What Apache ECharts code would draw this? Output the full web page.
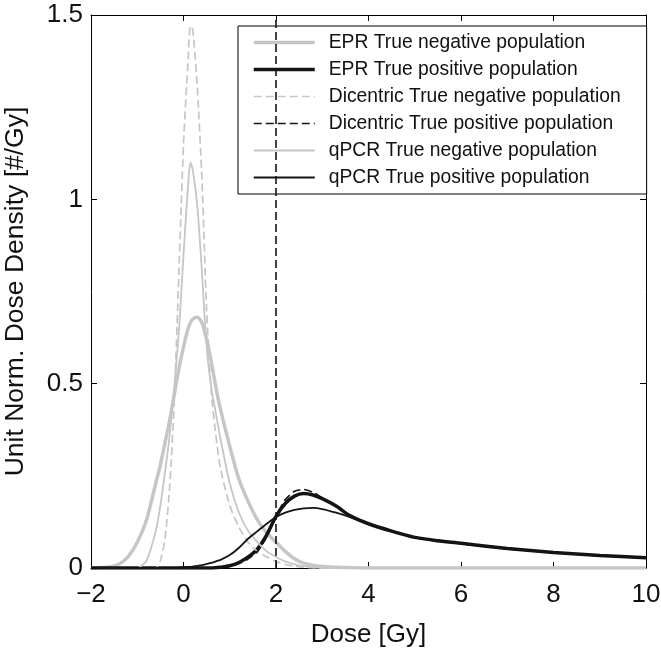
<!DOCTYPE html>
<html>
<head>
<meta charset="utf-8">
<script src="https://cdn.jsdelivr.net/npm/echarts@6/dist/echarts.min.js"></script>
<style>html,body{margin:0;padding:0;background:#fff}#c{width:661px;height:649px}</style>
</head>
<body>
<div id="c"></div>
<script>
const doses = [-2, -1.6, -1.4, -1.2, -1.0, -0.8, -0.6, -0.5, -0.4, -0.3, -0.2, -0.1, 0, 0.1, 0.15, 0.2, 0.3, 0.4, 0.5, 0.6, 0.7, 0.8, 1.0, 1.2, 1.4, 1.6, 1.8, 2.0, 2.2, 2.4, 2.6, 2.8, 3.0, 3.3, 3.6, 4.0, 4.5, 5.0, 5.5, 6.0, 7.0, 8.0, 9.0, 10.0];

const eprNeg = [0, 0.003, 0.01, 0.03, 0.07, 0.13, 0.23, 0.28, 0.34, 0.40, 0.47, 0.54, 0.60, 0.65, 0.665, 0.675, 0.68, 0.665, 0.62, 0.56, 0.49, 0.43, 0.33, 0.24, 0.18, 0.13, 0.095, 0.07, 0.045, 0.025, 0.013, 0.007, 0.004, 0.002, 0.001, 0, 0, 0, 0, 0, 0, 0, 0, 0];
const eprPos = [0, 0, 0, 0, 0, 0, 0, 0, 0, 0, 0, 0, 0, 0, 0, 0, 0, 0, 0, 0, 0.001, 0.002, 0.006, 0.015, 0.03, 0.052, 0.09, 0.14, 0.175, 0.195, 0.202, 0.198, 0.188, 0.168, 0.142, 0.12, 0.10, 0.083, 0.074, 0.067, 0.053, 0.042, 0.034, 0.028];
const dicNeg = [0, 0, 0, 0, 0, 0, 0, 0.02, 0.08, 0.22, 0.45, 0.80, 1.15, 1.38, 1.47, 1.46, 1.30, 1.05, 0.70, 0.48, 0.36, 0.27, 0.17, 0.11, 0.07, 0.045, 0.03, 0.018, 0.01, 0.005, 0.002, 0, 0, 0, 0, 0, 0, 0, 0, 0, 0, 0, 0, 0];
const dicPos = [0, 0, 0, 0, 0, 0, 0, 0, 0, 0, 0, 0, 0, 0, 0, 0, 0, 0, 0, 0, 0.001, 0.002, 0.005, 0.012, 0.025, 0.045, 0.085, 0.14, 0.185, 0.208, 0.213, 0.205, 0.19, 0.168, 0.143, 0.12, 0.099, 0.083, 0.073, 0.066, 0.052, 0.042, 0.034, 0.028];
const qpcrNeg = [0, 0, 0, 0, 0, 0.02, 0.10, 0.17, 0.26, 0.36, 0.49, 0.64, 0.85, 1.04, 1.10, 1.08, 0.98, 0.80, 0.60, 0.49, 0.42, 0.35, 0.23, 0.15, 0.10, 0.07, 0.045, 0.03, 0.018, 0.01, 0.005, 0.002, 0, 0, 0, 0, 0, 0, 0, 0, 0, 0, 0, 0];
const qpcrPos = [0, 0, 0, 0, 0, 0, 0, 0, 0, 0, 0, 0.001, 0.002, 0.003, 0.003, 0.004, 0.006, 0.008, 0.011, 0.014, 0.018, 0.022, 0.035, 0.055, 0.08, 0.10, 0.12, 0.138, 0.150, 0.158, 0.162, 0.163, 0.160, 0.150, 0.138, 0.12, 0.10, 0.083, 0.074, 0.067, 0.053, 0.042, 0.034, 0.028];

const seriesNames = ['EPR True negative population', 'EPR True positive population', 'Dicentric True negative population', 'Dicentric True positive population', 'qPCR True negative population', 'qPCR True positive population'];
const thresholdDose = 2;
const xTicks = { min: -2, max: 10, interval: 2 };
const yTicks = { min: 0, max: 1.5, interval: 0.5 };

const GREY = '#c6c6c6', BLACK = '#141414';
const FONT = 'Liberation Sans';
const zip = ys => doses.map((d, i) => [d, ys[i]]);

const styles = [
  { color: GREY, width: 3.5, type: 'solid' },
  { color: BLACK, width: 3.5, type: 'solid' },
  { color: GREY, width: 1.7, type: [8, 4] },
  { color: BLACK, width: 1.7, type: [8, 4] },
  { color: GREY, width: 1.8, type: 'solid' },
  { color: BLACK, width: 1.8, type: 'solid' }
];
const values = [eprNeg, eprPos, dicNeg, dicPos, qpcrNeg, qpcrPos];

const series = values.map((v, i) => ({
  name: seriesNames[i],
  type: 'line',
  data: zip(v),
  symbol: 'none',
  smooth: 0.25,
  color: styles[i].color,
  lineStyle: { color: styles[i].color, width: styles[i].width, type: styles[i].type },
  emphasis: { disabled: true },
  z: 2 + i
}));
series[0].markLine = {
  silent: true,
  symbol: 'none',
  label: { show: false },
  lineStyle: { color: BLACK, width: 1.6, type: [8, 4] },
  data: [{ xAxis: thresholdDose }]
};

const axisCommon = {
  axisLine: { show: true, onZero: false, lineStyle: { color: '#000', width: 1 } },
  axisTick: { show: true, inside: true, length: 6, lineStyle: { color: '#000', width: 1 } },
  splitLine: { show: false }
};
const minus = v => String(v).replace('-', '\u2212');

const chart = echarts.init(document.getElementById('c'));
chart.setOption({
  animation: false,
  backgroundColor: '#fff',
  grid: { left: 91, right: 15, top: 15, bottom: 81, outerBoundsMode: 'none' },
  legend: {
    data: seriesNames.map((n, i) => ({
      name: n,
      itemStyle: { opacity: 0 },
      lineStyle: { color: styles[i].color, width: styles[i].width, type: styles[i].type }
    })),
    orient: 'vertical',
    left: 238, top: 26,
    padding: [7, 26, 7, 14],
    itemWidth: 61, itemHeight: 14, itemGap: 8,
    backgroundColor: '#fff',
    borderColor: '#000', borderWidth: 1,
    selectedMode: false,
    textStyle: { fontFamily: FONT, fontSize: 19.3, lineHeight: 19, color: '#111', padding: [0, 0, 0, 9] }
  },
  xAxis: [
    Object.assign({
      type: 'value', position: 'bottom', min: xTicks.min, max: xTicks.max, interval: xTicks.interval,
      name: 'Dose [Gy]', nameLocation: 'middle', nameGap: 54,
      nameTextStyle: { fontFamily: FONT, fontSize: 26, color: '#111' },
      axisLabel: { fontFamily: FONT, fontSize: 26, color: '#111', margin: 14, formatter: minus }
    }, axisCommon),
    Object.assign({
      type: 'value', position: 'top', min: xTicks.min, max: xTicks.max, interval: xTicks.interval,
      axisLabel: { show: false }
    }, axisCommon)
  ],
  yAxis: [
    Object.assign({
      type: 'value', position: 'left', min: yTicks.min, max: yTicks.max, interval: yTicks.interval,
      name: 'Unit Norm. Dose Density [#/Gy]', nameLocation: 'middle', nameGap: 62,
      nameTextStyle: { fontFamily: FONT, fontSize: 26.5, color: '#111' },
      axisLabel: { fontFamily: FONT, fontSize: 26, color: '#111', margin: 8 }
    }, axisCommon),
    Object.assign({
      type: 'value', position: 'right', min: yTicks.min, max: yTicks.max, interval: yTicks.interval,
      axisLabel: { show: false }
    }, axisCommon)
  ],
  series: series
});
</script>
</body>
</html>
